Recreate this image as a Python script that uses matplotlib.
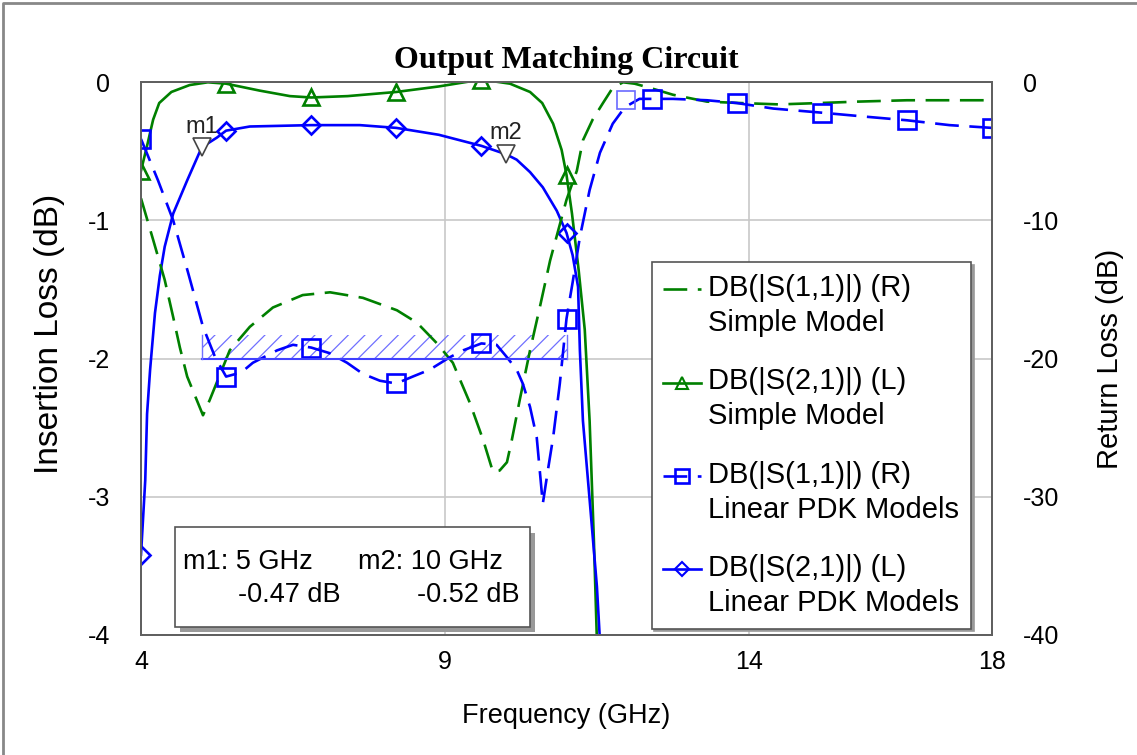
import numpy as np
import matplotlib.pyplot as plt
from matplotlib.patches import Rectangle
from matplotlib.lines import Line2D
from matplotlib.legend_handler import HandlerLine2D

plt.rcParams['font.family'] = ['Liberation Sans', 'DejaVu Sans']
plt.rcParams['axes.unicode_minus'] = False
plt.rcParams['hatch.linewidth'] = 0.9

# Marker positions along the sweep (every 1.4 GHz)
marker_freqs = [4.0, 5.4, 6.8, 8.2, 9.6, 11.0, 12.4, 13.8, 15.2, 16.6, 18.0]

# S21 simple model, insertion loss (dB)
s21_simple_f = [4.0, 4.1, 4.2, 4.3, 4.5, 4.8, 5.1, 5.4, 5.95, 6.45, 6.8, 7.4, 8.2, 8.9, 9.6,
                10.07, 10.4, 10.6, 10.78, 10.92, 11.0, 11.09, 11.2, 11.3, 11.38, 11.45, 11.5, 11.6]
s21_simple = [-0.64, -0.46, -0.27, -0.15, -0.07, -0.02, 0.0, -0.01, -0.06, -0.10, -0.11, -0.10, -0.07, -0.03, 0.02,
              -0.01, -0.07, -0.15, -0.30, -0.49, -0.67, -0.95, -1.36, -1.79, -2.45, -3.31, -4.04, -6.0]

# S11 simple model, return loss (dB)
s11_simple_f = [4.0, 4.2, 4.39, 4.53, 4.64, 4.76, 5.02, 5.13, 5.46, 5.79, 6.17, 6.66, 7.11, 7.65, 8.21,
                8.54, 8.87, 9.13, 9.41, 9.63, 9.79, 9.9, 10.02, 10.1, 10.23, 10.4, 10.56, 10.73, 11.0,
                11.17, 11.27, 11.43, 11.6, 11.76, 11.93, 12.12, 12.37, 12.75, 13.31, 13.85, 14.5, 15.17,
                15.78, 16.6, 17.3, 18.0]
s11_simple = [-8.4, -11.4, -14.3, -17.0, -19.2, -21.3, -24.1, -23.0, -19.4, -17.7, -16.3, -15.4, -15.2, -15.6, -16.5,
              -17.4, -18.9, -20.3, -23.2, -25.9, -28.2, -28.1, -27.5, -25.9, -23.0, -19.4, -16.3, -12.9, -8.5,
              -6.4, -4.2, -2.7, -1.5, -0.4, 0.0, -0.1, -0.4, -0.9, -1.4, -1.5, -1.6, -1.5,
              -1.4, -1.3, -1.3, -1.3]

# S11 linear PDK models, return loss (dB)
s11_pdk_f = [4.0, 4.28, 4.53, 4.77, 5.02, 5.22, 5.4, 5.65, 5.84, 6.24, 6.5, 6.8, 7.1, 7.39, 7.65, 7.93, 8.2,
             8.47, 8.75, 9.08, 9.3, 9.6, 9.85, 10.02, 10.18, 10.28, 10.4, 10.51, 10.61, 10.7, 10.78, 10.89,
             11.0, 11.1, 11.22, 11.38, 11.55, 11.76, 11.96, 12.2, 12.4, 12.75, 13.31, 13.8, 14.4, 15.2,
             15.95, 16.6, 17.3, 18.0]
s11_pdk = [-4.1, -7.1, -10.0, -13.7, -17.7, -19.9, -21.3, -21.0, -20.3, -19.4, -19.0, -19.2, -19.6, -20.3, -21.1, -21.6, -21.8,
           -21.3, -20.8, -19.9, -19.4, -18.9, -19.0, -19.9, -20.8, -21.8, -23.5, -25.7, -30.5, -27.9, -25.7, -21.8,
           -17.1, -14.5, -11.2, -7.8, -5.1, -3.0, -1.8, -1.2, -1.2, -1.2, -1.3, -1.5, -1.9, -2.2,
           -2.5, -2.75, -3.1, -3.3]

# S21 linear PDK models, insertion loss (dB)
s21_pdk_f = [4.0, 4.07, 4.1, 4.15, 4.23, 4.31, 4.39, 4.53, 4.76, 5.0, 5.25, 5.4, 5.79, 6.8, 7.6, 8.2,
             8.9, 9.6, 10.0, 10.18, 10.4, 10.61, 10.84, 11.0, 11.1, 11.19, 11.22, 11.27, 11.38, 11.5, 11.55, 11.6]
s21_pdk = [-3.42, -2.88, -2.40, -2.08, -1.67, -1.40, -1.19, -0.95, -0.71, -0.47, -0.40, -0.35, -0.32, -0.31, -0.31, -0.33,
           -0.38, -0.46, -0.52, -0.56, -0.65, -0.76, -0.93, -1.09, -1.25, -1.48, -1.94, -2.45, -3.02, -3.65, -4.04, -4.6]

# return loss spec: -20 dB from 5 to 11 GHz
spec_f = [5.0, 11.0]
spec_rl = [-20.0, -20.0]
spec_top = [-18.3, -18.3]

# faint extra S11 point near the band edge
ghost_f = [11.98]
ghost_rl = [-1.3]

# readout markers on the PDK S21 trace
m_names = ['m1', 'm2']
m_freqs = [5.0, 10.0]
m_vals = [-0.47, -0.52]

green = '#008000'
blue = '#0000ff'


def marks(f):
    return [i for i, v in enumerate(f) if round(v, 2) in marker_freqs]


class FirstLineHandler(HandlerLine2D):
    # keep the legend sample level with the first line of a two-line label
    def create_artists(self, legend, orig_handle, xdescent, ydescent, width, height, fontsize, trans):
        arts = super().create_artists(legend, orig_handle, xdescent, ydescent, width, height,
                                      fontsize, trans)
        for a in arts:
            a.set_ydata([y + 0.58 * fontsize for y in a.get_ydata()])
        return arts


fig = plt.figure(figsize=(11.37, 7.55), dpi=100)
ax = fig.add_axes([0.124, 0.159, 0.7485, 0.732])
ax2 = ax.twinx()

lw = 1.9
ax.plot(s21_simple_f, s21_simple, color=green, lw=lw, marker='^', ms=12, mew=1.9,
        mfc='none', markevery=marks(s21_simple_f))
ax.plot(s21_pdk_f, s21_pdk, color=blue, lw=lw, marker='D', ms=9, mew=1.9,
        mfc='none', markevery=marks(s21_pdk_f))
ax2.plot(s11_simple_f, s11_simple, color=green, lw=lw, dashes=(9, 4))
ax2.plot(s11_pdk_f, s11_pdk, color=blue, lw=lw, dashes=(9, 4), marker='s', ms=13, mew=1.9,
         mfc='none', markevery=marks(s11_pdk_f))
ax2.plot(ghost_f, ghost_rl, linestyle='none', marker='s', ms=13, mew=1.2, mfc='none', mec='#6a6aff')

# spec region
ax2.fill_between(spec_f, spec_rl, spec_top, facecolor='none', edgecolor='#7070ff',
                 hatch='//', linewidth=0)
ax2.plot(spec_f, spec_rl, color='#4040ff', lw=1.5)
for f in spec_f:
    ax2.plot([f, f], [spec_rl[0], spec_top[0]], color='#7070ff', lw=1)

# m1 / m2 markers
ax.plot(m_freqs, m_vals, linestyle='none', marker='v', ms=13, mfc='white', mec='#444444', mew=1.2)
for name, f, v in zip(m_names, m_freqs, m_vals):
    ax.annotate(name, (f, v), xytext=(0, 7), textcoords='offset points',
                ha='center', va='bottom', fontsize=17, color='#222222')

ax.set_xlim(4, 18)
ax.set_ylim(-4, 0)
ax2.set_ylim(-40, 0)
ax.set_xticks([4, 9, 14, 18])
ax.set_yticks([0, -1, -2, -3, -4])
ax2.set_yticks([0, -10, -20, -30, -40])
ax.grid(True, color='#c8c8c8', lw=1.2)
ax.tick_params(length=0, labelsize=18, pad=11)
ax.tick_params(axis='y', pad=22)
ax2.tick_params(length=0, labelsize=18, pad=22)
for a in (ax, ax2):
    for s in a.spines.values():
        s.set_color('#606060')
        s.set_linewidth(1.3)

ax.set_xlabel('Frequency (GHz)', fontsize=19.5, labelpad=21)
ax.set_ylabel('Insertion Loss (dB)', fontsize=24)
ax.yaxis.set_label_coords(-0.089, 0.544)
ax2.set_ylabel('Return Loss (dB)', fontsize=21, labelpad=27)
ax.set_title('Output Matching Circuit', fontsize=23, fontweight='bold',
             family='Liberation Serif', pad=10)

# legend
handles = [
    Line2D([], [], color=green, lw=lw, dashes=(9, 4)),
    Line2D([], [], color=green, lw=lw, marker='^', ms=9, mfc='none', mew=1.5),
    Line2D([], [], color=blue, lw=lw, dashes=(9, 4), marker='s', ms=10, mfc='none', mew=1.9),
    Line2D([], [], color=blue, lw=lw, marker='D', ms=7, mfc='none', mew=1.5),
]
labels = ['DB(|S(1,1)|) (R)\nSimple Model', 'DB(|S(2,1)|) (L)\nSimple Model',
          'DB(|S(1,1)|) (R)\nLinear PDK Models', 'DB(|S(2,1)|) (L)\nLinear PDK Models']
leg = ax2.legend(handles, labels, loc='upper left', bbox_to_anchor=(0.600, 0.6745),
                 borderaxespad=0, fontsize=21, handlelength=1.3, handletextpad=0.25,
                 borderpad=0.4, labelspacing=1.05, fancybox=False, framealpha=1,
                 edgecolor='#555555', shadow={'color': '#999999', 'alpha': 1},
                 handler_map={Line2D: FirstLineHandler()})
leg.get_frame().set_linewidth(1.2)
for t in leg.get_texts():
    t.set_linespacing(1.31)

# marker readout box
box = Rectangle((0.040, 0.0145), 0.417, 0.18, transform=ax2.transAxes, facecolor='white',
                edgecolor='#555555', lw=1.2, zorder=5)
shadow = Rectangle((0.046, 0.005), 0.417, 0.18, transform=ax2.transAxes, facecolor='#999999',
                   edgecolor='none', zorder=4)
ax2.add_patch(shadow)
ax2.add_patch(box)
cols = [(0.049, 0.234), (0.255, 0.445)]
for (xl, xr), name, f, v in zip(cols, m_names, m_freqs, m_vals):
    ax2.text(xl, 0.132, f'{name}: {f:g} GHz', transform=ax2.transAxes, fontsize=19.5,
             va='center', ha='left', zorder=6)
    ax2.text(xr, 0.072, f'{v:.2f} dB', transform=ax2.transAxes, fontsize=19.5,
             va='center', ha='right', zorder=6)

# outer frame
fig.add_artist(Line2D([0.003, 0.003, 1.0], [0.0, 0.996, 0.996], transform=fig.transFigure,
                      color='#888888', lw=2))

fig.savefig('out.png', dpi=100)
